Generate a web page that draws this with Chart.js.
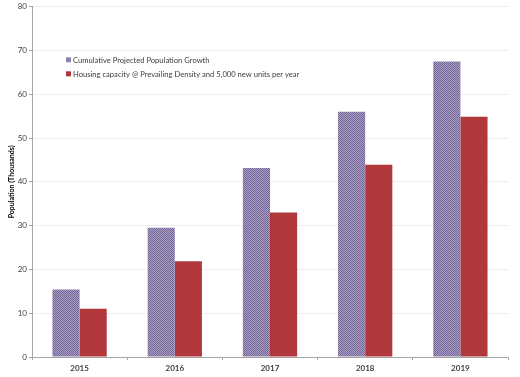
<!DOCTYPE html>
<html>
<head>
<meta charset="utf-8">
<script src="https://cdn.jsdelivr.net/npm/chart.js@4/dist/chart.umd.min.js"></script>
<style>
html,body{margin:0;padding:0;background:#fff;}
#wrap{width:520px;height:377px;position:relative;}
</style>
</head>
<body>
<div id="wrap"><canvas id="c" width="520" height="377"></canvas></div>
<script>
const categories = ["2015", "2016", "2017", "2018", "2019"];
const populationGrowth = [15.4, 29.5, 43.2, 56.0, 67.5];
const housingCapacity = [11.0, 21.9, 33.0, 43.9, 54.9];
const seriesNames = ["Cumulative Projected Population Growth", "Housing capacity @ Prevailing Density and 5,000 new units per year"];
const yTicks = [0, 10, 20, 30, 40, 50, 60, 70, 80];
const yTitle = "Population (Thousands)";

function makePattern() {
  const p = document.createElement('canvas');
  p.width = 2; p.height = 2;
  const g = p.getContext('2d');
  g.fillStyle = '#a89ec0'; g.fillRect(0,0,2,2);
  g.fillStyle = '#74669a'; g.fillRect(0,0,1,1); g.fillRect(1,1,1,1);
  return g.createPattern(p, 'repeat');
}
const purple = makePattern();
const red = '#b0373b';
const FONT = 'Lato, "Open Sans", sans-serif';

const legendPlugin = {
  id: 'insideLegend',
  afterDraw(chart) {
    const ctx = chart.ctx;
    const a = chart.chartArea;
    ctx.save();
    ctx.font = '7.6px ' + FONT;
    ctx.textBaseline = 'middle';
    ctx.textAlign = 'left';
    const items = chart.data.datasets;
    items.forEach((ds, i) => {
      const y = a.top + 53 + i * 14;
      const x = a.left + 34;
      ctx.fillStyle = ds.legendColor;
      ctx.fillRect(x, y - 2.5, 5, 5);
      ctx.fillStyle = '#404040';
      ctx.fillText(ds.label, x + 7, y + 0.5);
    });
    ctx.restore();
  }
};

new Chart(document.getElementById('c'), {
  type: 'bar',
  data: {
    labels: categories,
    datasets: [
      { label: seriesNames[0], data: populationGrowth, backgroundColor: purple, legendColor: '#8e82ae', borderWidth: 0 },
      { label: seriesNames[1], data: housingCapacity, backgroundColor: red, legendColor: red, borderWidth: 0 }
    ]
  },
  options: {
    responsive: false,
    animation: false,
    devicePixelRatio: 1,
    layout: { padding: { top: 5, right: 12, left: 8, bottom: 0 } },
    plugins: { legend: { display: false }, tooltip: { enabled: false } },
    datasets: { bar: { barPercentage: 1.0, categoryPercentage: 0.57 } },
    scales: {
      x: {
        grid: { display: true, drawOnChartArea: false, drawTicks: true, tickLength: 3, color: '#a6a6a6', offset: true },
        border: { display: true, color: '#a6a6a6' },
        ticks: { color: '#404040', font: { family: FONT, size: 8, weight: 'bold' }, padding: 4 },
        afterFit(s) { s.height = 20; }
      },
      y: {
        min: 0, max: 80,
        afterBuildTicks(s) { s.ticks = yTicks.map(v => ({ value: v })); },
        grid: { color: '#eeeeee', tickLength: 3, drawTicks: true, tickColor: '#a6a6a6' },
        border: { display: true, color: '#a6a6a6' },
        ticks: { color: '#404040', font: { family: FONT, size: 8 }, padding: 2 },
        title: { display: true, text: yTitle, color: '#000', font: { family: FONT, size: 7, weight: 'bold' }, padding: { top: 0, bottom: 0 } },
        afterFit(s) { s.width = 24; }
      }
    }
  },
  plugins: [legendPlugin]
});
</script>
</body>
</html>
